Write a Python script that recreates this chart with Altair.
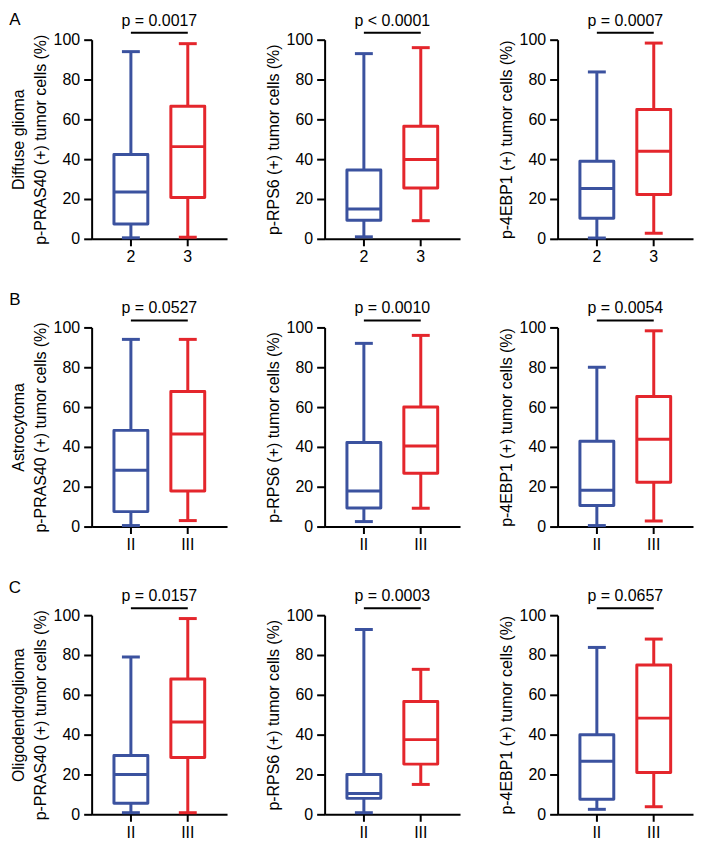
import altair as alt
import pandas as pd

# ---------------- data ----------------
row_names = ["Diffuse glioma", "Astrocytoma", "Oligodendroglioma"]
row_letters = ["A", "B", "C"]
row_groups = [["2", "3"], ["II", "III"], ["II", "III"]]
marker_titles = ["p-PRAS40 (+) tumor cells (%)",
                 "p-RPS6 (+) tumor cells (%)",
                 "p-4EBP1 (+) tumor cells (%)"]
y_ticks = [0, 20, 40, 60, 80, 100]

# [min, q1, median, q3, max] -- lower grade (blue) / higher grade (red)
low_A = [[0.5, 7.5, 23.5, 42.3, 94.0],
         [1.0, 9.3, 15.0, 34.5, 93.0],
         [0.4, 10.3, 25.3, 39.0, 83.8]]
high_A = [[0.8, 20.8, 46.3, 66.6, 98.0],
          [9.1, 25.5, 39.8, 56.5, 96.0],
          [2.8, 22.2, 44.0, 65.0, 98.3]]
low_B = [[0.5, 7.5, 28.3, 48.3, 94.0],
         [2.5, 9.3, 17.8, 42.2, 92.0],
         [0.5, 10.6, 18.2, 42.8, 80.0]]
high_B = [[3.0, 17.8, 46.5, 67.8, 94.0],
          [9.2, 26.8, 40.5, 60.0, 96.0],
          [2.8, 22.3, 43.8, 65.3, 98.3]]
low_C = [[0.8, 5.6, 20.0, 29.5, 79.0],
         [0.8, 8.0, 10.4, 20.0, 92.8],
         [2.5, 7.6, 26.7, 40.0, 83.8]]
high_C = [[0.8, 28.5, 46.3, 68.0, 98.3],
          [15.0, 25.2, 37.5, 56.6, 72.8],
          [3.8, 21.0, 48.3, 75.0, 88.0]]

p_A = ["p = 0.0017", "p < 0.0001", "p = 0.0007"]
p_B = ["p = 0.0527", "p = 0.0010", "p = 0.0054"]
p_C = ["p = 0.0157", "p = 0.0003", "p = 0.0657"]

lows = [low_A, low_B, low_C]
highs = [high_A, high_B, high_C]
pvals = [p_A, p_B, p_C]

BLUE = "#3b529f"
RED = "#e4262c"
FONT = "Liberation Sans"
W, H = 136, 200
P_IN, P_OUT = 0.3, 0.34
STEP = W / (2 - P_IN + 2 * P_OUT)
LETTER_DY = [-20, -28, -27]


def panel(r, c):
    groups = row_groups[r]
    lo, hi = lows[r][c], highs[r][c]
    df = pd.DataFrame({
        "grp": groups,
        "mn": [lo[0], hi[0]],
        "q1": [lo[1], hi[1]],
        "med": [lo[2], hi[2]],
        "q3": [lo[3], hi[3]],
        "mx": [lo[4], hi[4]],
    })
    xscale = alt.Scale(domain=groups, paddingInner=P_IN, paddingOuter=P_OUT)
    yscale = alt.Scale(domain=[0, 100], nice=False)
    color = alt.Color("grp:N", scale=alt.Scale(domain=groups, range=[BLUE, RED]), legend=None)
    stroke = alt.Stroke("grp:N", scale=alt.Scale(domain=groups, range=[BLUE, RED]), legend=None)
    ytitle = [row_names[r], marker_titles[c]] if c == 0 else marker_titles[c]

    base = alt.Chart(df)
    xenc = alt.X("grp:N", scale=xscale, sort=groups, title=None,
                 axis=alt.Axis(labelAngle=0, tickSize=7, labelPadding=3))
    whisker = base.mark_rule(strokeWidth=3).encode(
        x=xenc,
        y=alt.Y("mn:Q", scale=yscale, title=ytitle,
                axis=alt.Axis(values=y_ticks, tickCount=len(y_ticks), tickSize=8,
                              labelOverlap=False, labelFlush=False,
                              labelPadding=4, titlePadding=5, titleLineHeight=22)),
        y2="mx:Q",
        color=color,
    )
    box = base.mark_bar(size=34, fill="white", strokeWidth=3, strokeJoin="round").encode(
        x=xenc, y="q1:Q", y2="q3:Q", stroke=stroke)
    med = base.mark_tick(size=34, thickness=3, opacity=1).encode(x=xenc, y="med:Q", color=color)
    cap_lo = base.mark_tick(size=18, thickness=3, opacity=1).encode(x=xenc, y="mn:Q", color=color)
    cap_hi = base.mark_tick(size=18, thickness=3, opacity=1).encode(x=xenc, y="mx:Q", color=color)

    bdf = pd.DataFrame({"grp": [groups[0]], "grp2": [groups[1]], "p": [pvals[r][c]]})
    bracket = alt.Chart(bdf).mark_rule(strokeWidth=2, color="black").encode(
        x=alt.X("grp:N", bandPosition=0.5),
        x2=alt.X2("grp2"),
        y=alt.value(-7),
    )
    ptext = alt.Chart(bdf).mark_text(fontSize=16, font=FONT, align="center",
                                     baseline="middle", dx=STEP / 2, color="black").encode(
        x=alt.X("grp:N", bandPosition=0.5),
        y=alt.value(-19),
        text="p:N",
    )
    layers = [whisker, box, med, cap_lo, cap_hi, bracket, ptext]
    if c == 0:
        ldf = pd.DataFrame({"letter": [row_letters[r]]})
        letter = alt.Chart(ldf).mark_text(fontSize=17, font=FONT, align="center",
                                          baseline="middle", color="black").encode(
            x=alt.value(-77), y=alt.value(LETTER_DY[r]), text="letter:N")
        layers.append(letter)
    return alt.layer(*layers).properties(width=W, height=H)


panels = [panel(r, c) for r in range(3) for c in range(3)]

chart = alt.concat(*panels, columns=3, spacing={"row": 89, "column": 98},
                   bounds="flush").properties(padding=0, background="white").configure_view(
    stroke="transparent"
).configure_axis(
    grid=False,
    domainColor="black", domainWidth=2,
    tickColor="black", tickWidth=2,
    labelColor="black", labelFont=FONT, labelFontSize=16,
    titleColor="black", titleFont=FONT, titleFontSize=16, titleFontWeight="normal",
)

chart.save("out.html", embed_options={"renderer": "svg", "actions": False})
